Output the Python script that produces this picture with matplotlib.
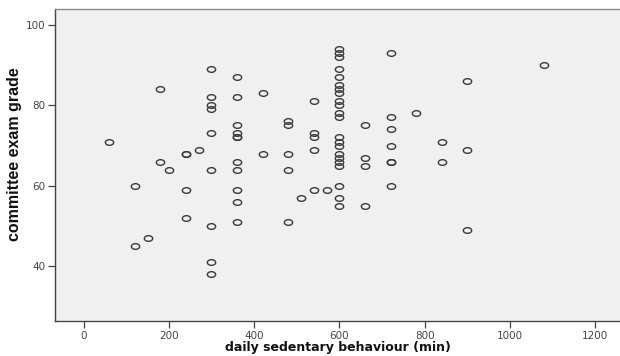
import numpy as np
import matplotlib
matplotlib.use("Agg")
import matplotlib.pyplot as plt
from matplotlib.path import Path
from matplotlib.transforms import Affine2D

# daily sedentary behaviour (min) and committee exam grade, one pair per student
minutes = [60,
           120, 120,
           150,
           180, 180,
           200,
           240, 240, 240, 240,
           270,
           300, 300, 300, 300, 300, 300, 300, 300, 300,
           360, 360, 360, 360, 360, 360, 360, 360, 360, 360, 360,
           420, 420,
           480, 480, 480, 480, 480,
           510,
           540, 540, 540, 540, 540,
           570,
           600, 600, 600, 600, 600, 600, 600, 600, 600, 600, 600,
           600, 600, 600, 600, 600, 600, 600, 600, 600, 600, 600,
           660, 660, 660, 660,
           720, 720, 720, 720, 720, 720, 720,
           780,
           840, 840,
           900, 900, 900,
           1080]
grades = [71,
          60, 45,
          47,
          84, 66,
          64,
          68, 68, 59, 52,
          69,
          89, 82, 80, 79, 73, 64, 50, 41, 38,
          87, 82, 75, 73, 72, 72, 66, 64, 59, 56, 51,
          83, 68,
          76, 75, 68, 64, 51,
          57,
          81, 73, 72, 69, 59,
          59,
          94, 93, 92, 89, 87, 85, 84, 83, 81, 80, 78,
          77, 72, 71, 70, 68, 67, 66, 65, 60, 57, 55,
          75, 67, 65, 55,
          93, 77, 74, 70, 66, 66, 60,
          78,
          71, 66,
          86, 69, 49,
          90]

x_ticks = [0, 200, 400, 600, 800, 1000, 1200]
y_ticks = [40, 60, 80, 100]

fig = plt.figure(figsize=(6.2, 3.56), dpi=100)
ax = fig.add_axes([55 / 620, 35 / 356, 565 / 620, 312 / 356])
ax.set_facecolor("#f0f0f0")

# slightly flattened open circles, as in the original export
ring = Path.unit_circle().transformed(Affine2D().scale(1.0, 0.68))
ax.plot(minutes, grades, linestyle="none", marker=ring, markersize=6,
        markerfacecolor="none", markeredgecolor="#3a3a3a", markeredgewidth=1.0)

ax.set_xlim(-67, 1258)
ax.set_ylim(26.3, 104.0)
ax.set_xticks(x_ticks)
ax.set_yticks(y_ticks)
ax.tick_params(axis="both", direction="out", length=5, width=0.9,
               color="#444444", labelsize=7.5, labelcolor="#444444", pad=2)

ax.spines["right"].set_visible(False)
ax.spines["top"].set_color("#8a8a8a")
ax.spines["left"].set_color("#444444")
ax.spines["bottom"].set_color("#444444")
for s in ax.spines.values():
    s.set_linewidth(1.0)

# axis titles placed by hand, like the SPSS export
fig.text(338 / 620, 1 - 348 / 356, "daily sedentary behaviour (min)",
         fontsize=9, fontweight="bold", color="#111111",
         ha="center", va="center")
fig.text(15 / 620, 1 - 154 / 356, "committee exam grade",
         fontsize=11.5, fontweight="bold", rotation=90,
         family=["Liberation Sans Narrow", "Liberation Sans", "DejaVu Sans"],
         color="#111111", ha="center", va="center")

fig.savefig("out.png", dpi=100)
